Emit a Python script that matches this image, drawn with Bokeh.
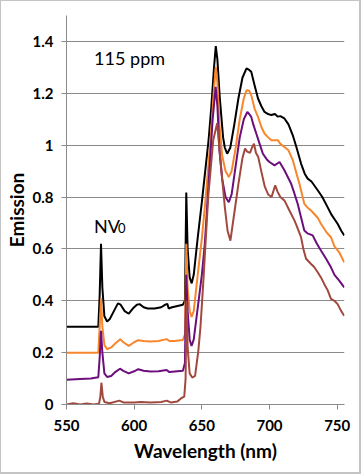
from bokeh.plotting import figure
from bokeh.models import FixedTicker, Range1d
from bokeh.core.properties import value
from bokeh.embed import file_html
from bokeh.resources import INLINE

# ---- data ----
black_wl = [550, 573.5, 574.5, 575.5, 576.5, 578, 580, 582, 585, 588, 590, 593, 596, 599, 602, 604,
            607, 610, 615, 620, 623, 624.5, 625.5, 628, 632, 636, 637.5, 638.5, 639.5, 641, 642.5,
            644, 647, 650, 652, 655, 657, 659, 660.3, 661.5, 663.2, 665.7, 667, 668.7, 671, 674,
            677, 680, 683, 685, 686.5, 689, 691.5, 694, 696.3, 699, 701.3, 704, 706, 708, 711,
            714, 717.2, 720, 723.3, 726, 728.2, 731, 735.6, 739, 742.9, 746, 750.3, 753, 755.2]
black_val = [0.30, 0.30, 0.42, 0.62, 0.45, 0.34, 0.32, 0.33, 0.36, 0.39, 0.385, 0.36, 0.35, 0.37, 0.385, 0.387,
             0.375, 0.37, 0.37, 0.375, 0.385, 0.388, 0.37, 0.375, 0.38, 0.385, 0.40, 0.817, 0.60, 0.49, 0.467,
             0.50, 0.645, 0.78, 0.877, 1.02, 1.148, 1.30, 1.382, 1.33, 1.186, 1.03, 0.99, 0.967, 0.99, 1.08,
             1.18, 1.26, 1.296, 1.29, 1.283, 1.23, 1.18, 1.15, 1.128, 1.12, 1.116, 1.12, 1.11, 1.112, 1.103,
             1.08, 1.038, 0.99, 0.929, 0.89, 0.871, 0.86, 0.826, 0.80, 0.761, 0.73, 0.697, 0.67, 0.652]

orange_wl = [550, 573.5, 574.5, 575.5, 576.5, 578, 580, 583, 586, 589.7, 592, 596, 600, 603, 607, 612,
             618, 624, 626, 630, 636, 637.5, 638.5, 639.5, 641, 642.4, 644, 647.3, 650, 652.2, 655,
             657.1, 659, 660.3, 661.5, 663, 665, 667.5, 669.9, 672, 675, 678, 681, 683, 685, 686.5,
             689, 691.5, 694, 696.3, 699, 701.3, 706.2, 708, 711, 714, 717.2, 720, 722.1, 725.7, 728,
             730.7, 735.6, 738, 742, 745.4, 748, 751.5, 755.2]
orange_val = [0.20, 0.20, 0.30, 0.41, 0.30, 0.23, 0.213, 0.22, 0.235, 0.252, 0.24, 0.226, 0.24, 0.248, 0.245, 0.243,
              0.245, 0.252, 0.245, 0.245, 0.249, 0.27, 0.62, 0.45, 0.36, 0.338, 0.36, 0.516, 0.64, 0.761, 0.93,
              1.07, 1.22, 1.302, 1.24, 1.08, 0.96, 0.90, 0.877, 0.90, 0.99, 1.10, 1.18, 1.212, 1.21, 1.193,
              1.14, 1.109, 1.07, 1.045, 1.03, 1.019, 1.019, 1.005, 0.993, 0.98, 0.942, 0.89, 0.851, 0.774, 0.76,
              0.748, 0.72, 0.697, 0.665, 0.645, 0.61, 0.587, 0.548]

purple_wl = [550, 560, 568, 573.5, 574.5, 575.5, 576.5, 578, 580, 583, 586, 589.5, 592, 596, 600, 603,
             607, 612, 618, 624, 626, 630, 636, 637.5, 638.5, 639.5, 641, 642.4, 644, 647.3, 650,
             652.2, 655.9, 658, 660.2, 661.5, 663, 665, 667.5, 669.9, 672, 675, 678, 681, 683.6, 685,
             686.5, 688, 690.2, 693, 695.1, 698, 700, 703.7, 707.4, 711, 716, 718, 720.8, 725.7, 728,
             731.9, 735, 738, 742, 745.4, 748, 751.5, 755.2]
purple_val = [0.095, 0.098, 0.10, 0.105, 0.18, 0.284, 0.20, 0.12, 0.106, 0.11, 0.125, 0.138, 0.13, 0.12, 0.128, 0.136,
              0.13, 0.127, 0.128, 0.133, 0.125, 0.127, 0.13, 0.16, 0.50, 0.36, 0.25, 0.226, 0.25, 0.387, 0.50,
              0.62, 0.929, 1.10, 1.225, 1.15, 0.98, 0.87, 0.80, 0.78, 0.81, 0.92, 1.03, 1.10, 1.128, 1.12,
              1.109, 1.08, 1.045, 1.00, 0.967, 0.945, 0.935, 0.922, 0.935, 0.903, 0.851, 0.82, 0.774, 0.671, 0.66,
              0.652, 0.62, 0.594, 0.56, 0.529, 0.50, 0.478, 0.452]

brown_wl = [550, 555, 560, 565, 570, 574, 575, 575.8, 576.8, 578, 582, 589, 592, 600, 605, 612, 620,
            624, 627, 632, 635, 637, 638, 638.7, 639.5, 641, 642.9, 645, 647.4, 649, 651, 654.7, 658.4,
            661.3, 664.5, 667, 669, 671.1, 674.3, 677, 680, 681.9, 683.5, 685.6, 687, 688.5, 690,
            691.7, 693.9, 696.5, 699, 701.5, 704.2, 706, 708, 711, 714.7, 718.4, 720, 723.3, 725, 727,
            730.7, 733, 735.6, 738, 740.4, 743, 745.4, 748, 750.3, 753, 755.2]
brown_val = [0.0, 0.005, 0.0, 0.004, 0.0, 0.003, 0.03, 0.084, 0.03, 0.01, 0.005, 0.015, 0.008, 0.008, 0.01, 0.008, 0.01,
             0.015, 0.008, 0.012, 0.025, 0.03, 0.10, 0.40, 0.22, 0.12, 0.104, 0.11, 0.207, 0.30, 0.465, 0.80, 1.019,
             1.085, 0.90, 0.76, 0.67, 0.632, 0.75, 0.85, 0.95, 0.987, 0.975, 0.97, 0.99, 1.006, 0.97,
             0.954, 0.90, 0.84, 0.81, 0.80, 0.845, 0.82, 0.80, 0.787, 0.748, 0.71, 0.69, 0.645, 0.60, 0.562,
             0.542, 0.53, 0.51, 0.49, 0.465, 0.44, 0.407, 0.40, 0.387, 0.36, 0.342]

x_ticks = [550, 600, 650, 700, 750]
y_ticks = [0, 0.2, 0.4, 0.6, 0.8, 1.0, 1.2, 1.4]
y_tick_labels = ["0", "0.2", "0.4", "0.6", "0.8", "1", "1.2", "1.4"]
grid_ticks = [0.2, 0.4, 0.6, 0.8, 1.0, 1.2, 1.4]

series = [
    (black_wl, black_val, "#000000"),
    (orange_wl, orange_val, "#F7862C"),
    (purple_wl, purple_val, "#6C0E7C"),
    (brown_wl, brown_val, "#A2493F"),
]

FONT = "Lato"
GRID = "#8a8a8a"
FRAME_BORDER = "#c4c4c4"

p = figure(width=361, height=474, output_backend="svg", toolbar_location=None,
           x_range=Range1d(550, 755.4), y_range=Range1d(0, 1.5),
           min_border_left=63, min_border_right=18, min_border_top=14, min_border_bottom=71,
           styles={"border-left": f"1px solid {FRAME_BORDER}", "border-top": f"1px solid {FRAME_BORDER}",
                   "border-right": f"2px solid {FRAME_BORDER}", "border-bottom": f"2px solid {FRAME_BORDER}"})
p.outline_line_color = None
p.background_fill_color = "white"
p.border_fill_color = "white"

for xs, ys, c in series:
    p.line(xs, ys, line_color=c, line_width=2)

# annotations
label_x = 570.4
p.text([label_x], [1.336], text=["115 ppm"], text_font=value(FONT), text_font_size="18px",
       text_baseline="middle", text_align="left", text_color="black")
p.text([label_x], [0.6875], text=["NV"], text_font=value(FONT), text_font_size="18px",
       text_baseline="middle", text_align="left", text_color="black")
p.text([label_x], [0.6875], text=["0"], text_font=value(FONT), text_font_size="13px",
       text_baseline="middle", text_align="left", text_color="black", x_offset=24, y_offset=2)

# axes
p.xaxis.ticker = FixedTicker(ticks=x_ticks)
p.yaxis.ticker = FixedTicker(ticks=y_ticks)
p.yaxis.major_label_overrides = {t: l for t, l in zip(y_ticks, y_tick_labels)}
for ax in (p.xaxis[0], p.yaxis[0]):
    ax.axis_line_color = GRID
    ax.axis_line_width = 1
    ax.major_tick_line_color = GRID
    ax.major_tick_out = 5
    ax.major_tick_in = 0
    ax.minor_tick_line_color = None
    ax.major_label_text_font = FONT
    ax.major_label_text_font_style = "bold"
    ax.major_label_text_font_size = "15px"
    ax.major_label_text_color = "black"
    ax.axis_label_text_font = FONT
    ax.axis_label_text_font_style = "bold"
    ax.axis_label_text_font_size = "19px"
    ax.axis_label_text_color = "black"
p.xaxis.axis_label = "Wavelength (nm)"
p.yaxis.axis_label = "Emission"
p.xaxis.major_label_standoff = 10
p.yaxis.major_label_standoff = 8
p.xaxis.axis_label_standoff = 5
p.yaxis.axis_label_standoff = 2

p.xgrid.grid_line_color = None
p.ygrid.grid_line_color = GRID
p.ygrid.grid_line_width = 1
p.ygrid.ticker = FixedTicker(ticks=grid_ticks)

open("out.html", "w").write(file_html(p, INLINE))
